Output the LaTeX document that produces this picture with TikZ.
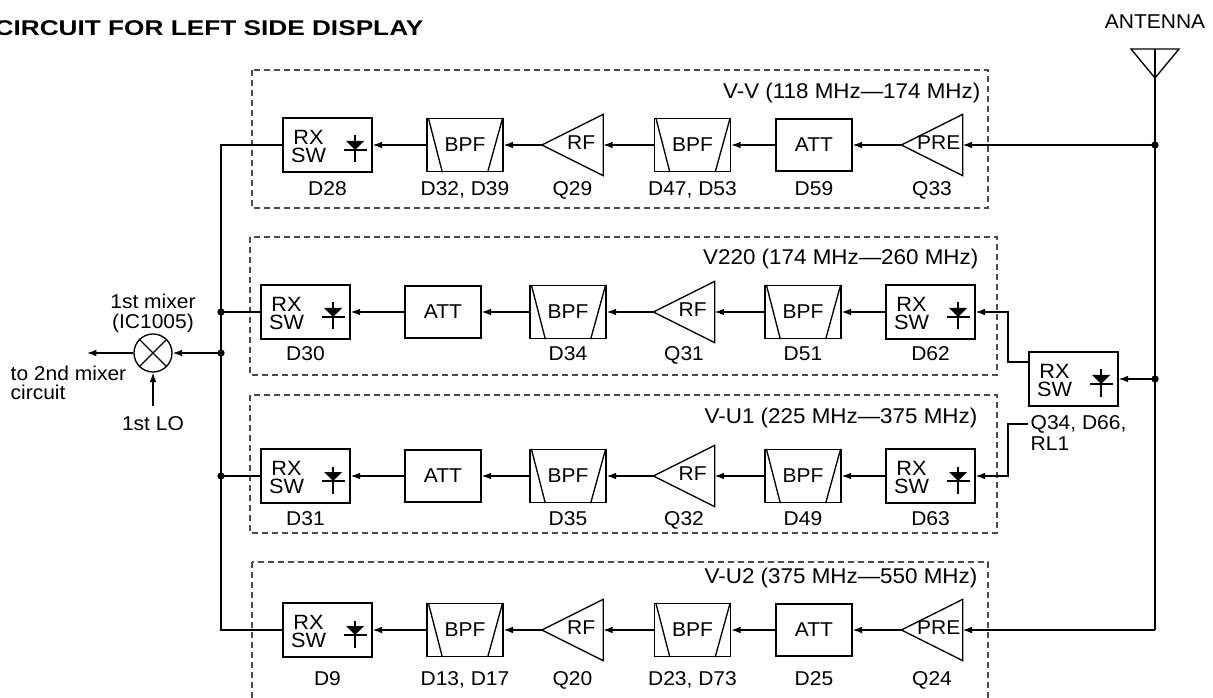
\documentclass[tikz,border=0pt]{standalone}
\usepackage{fontspec}
\setmainfont{Liberation Sans}[FakeStretch=1.05]
\usetikzlibrary{arrows.meta,calc}
\begin{document}
\begin{tikzpicture}[x=0.75pt,y=-0.75pt,line width=1pt,
  font=\fontsize{15}{18}\selectfont,
  swbox/.style={draw,rectangle,minimum width=66.75pt,minimum height=40.5pt,inner sep=0pt},
  bpfbox/.style={draw,rectangle,minimum width=57pt,minimum height=39.75pt,inner sep=0pt},
  attbox/.style={draw,rectangle,minimum width=57pt,minimum height=39pt,inner sep=0pt},
  ampnode/.style={rectangle,minimum width=45pt,minimum height=45pt,inner sep=0pt},
  arr/.style={-{Latex[length=7pt,width=5pt]}},
  jdot/.style={circle,fill,inner sep=0pt,minimum size=5.5pt},
  dbox/.style={draw=black!70,dash pattern=on 4.5pt off 3pt},
  txt/.style={inner sep=0pt},
  partlbl/.style={inner sep=0pt,anchor=base},
  swtxt/.style={inner sep=0pt,font=\fontsize{15.5}{16}\selectfont},
  bandlbl/.style={inner sep=0pt,anchor=east,font=\fontsize{16}{18}\selectfont},
  twoline/.style={inner sep=0pt,align=left,font=\fontsize{15}{14.5}\selectfont}]
\clip (0,0) rectangle (1213,698);

% title
\node[txt,anchor=west,font=\fontsize{16}{18}\bfseries] (title) at (-6,28) {\scalebox{1.17}[1]{CIRCUIT FOR LEFT SIDE DISPLAY}};

% dashed band boxes
\draw[dbox] (252,70) rectangle (988,208);
\draw[dbox] (250,237) rectangle (997,375);
\draw[dbox] (250,395) rectangle (997,533);
\draw[dbox] (252,562) rectangle (988,712);
\node[bandlbl] (lv1) at (981,93) {V-V (118 MHz—174 MHz)};
\node[bandlbl] (lv2) at (979,259) {V220 (174 MHz—260 MHz)};
\node[bandlbl] (lv3) at (978,418) {V-U1 (225 MHz—375 MHz)};
\node[bandlbl] (lv4) at (978,578) {V-U2 (375 MHz—550 MHz)};

% row 1
\node[swbox] (d28) at (327.5,145) {};
\node[bpfbox] (b1a) at (465,145) {BPF};
\node[ampnode] (q29) at (572.5,145) {};
\node[bpfbox] (b1b) at (692.5,145) {BPF};
\node[attbox] (a1) at (814,145) {ATT};
\node[ampnode] (q33) at (932,145) {};
% row 2
\node[swbox] (d30) at (305.5,312) {};
\node[attbox] (a2) at (443,312) {ATT};
\node[bpfbox] (b2a) at (568,312) {BPF};
\node[ampnode] (q31) at (684,312) {};
\node[bpfbox] (b2b) at (803,312) {BPF};
\node[swbox] (d62) at (930.5,312) {};
% row 3
\node[swbox] (d31) at (305.5,476) {};
\node[attbox] (a3) at (443,476) {ATT};
\node[bpfbox] (b3a) at (568,476) {BPF};
\node[ampnode] (q32) at (684,476) {};
\node[bpfbox] (b3b) at (803,476) {BPF};
\node[swbox] (d63) at (930.5,476) {};
% row 4
\node[swbox] (d9) at (327.5,630) {};
\node[bpfbox] (b4a) at (465,630) {BPF};
\node[ampnode] (q20) at (572.5,630) {};
\node[bpfbox] (b4b) at (692.5,630) {BPF};
\node[attbox] (a4) at (814,630) {ATT};
\node[ampnode] (q24) at (932,630) {};
% side switch
\node[swbox] (swm) at (1073.5,379) {};

% RX SW internals
\foreach \n in {d28,d30,d62,d31,d63,d9,swm}{
  \begin{scope}[shift={(\n.center)}]
    \node[swtxt] (\n-rx) at (-19,-8) {RX};
    \node[swtxt] (\n-sw) at (-19,10.5) {SW};
    \draw (27.5,-9.5) -- (27.5,17.5);
    \fill (18.5,-4) -- (36.5,-4) -- (27.5,5) -- cycle;
    \draw (16,5) -- (39,5);
  \end{scope}
}
% BPF slants
\foreach \n in {b1a,b1b,b2a,b2b,b3a,b3b,b4a,b4b}{
  \draw ($(\n.north west)+(2,0)$) -- ($(\n.south west)+(16,0)$);
  \draw ($(\n.north east)+(-1,0)$) -- ($(\n.south east)+(-16,0)$);
}
% amplifiers
\foreach \n/\t/\o in {q29/RF/22,q33/PRE/24,q31/RF/22,q32/RF/22,q20/RF/22,q24/PRE/24}{
  \draw (\n.west) -- (\n.north east) -- (\n.south east) -- cycle;
  \node[txt] (\n-t) at ($(\n.east)+(-\o,-2)$) {\t};
}

% part labels
\foreach \n/\t in {d28/D28,b1a/{D32, D39},q29/Q29,b1b/{D47, D53},a1/D59,q33/Q33}{
  \node[partlbl] (\n-l) at (\n.center |- 0,196) {\t};
}
\foreach \n/\t in {d30/D30,b2a/D34,q31/Q31,b2b/D51,d62/D62}{
  \node[partlbl] (\n-l) at (\n.center |- 0,361) {\t};
}
\foreach \n/\t in {d31/D31,b3a/D35,q32/Q32,b3b/D49,d63/D63}{
  \node[partlbl] (\n-l) at (\n.center |- 0,525) {\t};
}
\foreach \n/\t in {d9/D9,b4a/{D13, D17},q20/Q20,b4b/{D23, D73},a4/D25,q24/Q24}{
  \node[partlbl] (\n-l) at (\n.center |- 0,685) {\t};
}

% signal chains
\draw[arr] (q33.west) -- (a1.east);
\draw[arr] (a1.west) -- (b1b.east);
\draw[arr] (b1b.west) -- (q29.east);
\draw[arr] (q29.west) -- (b1a.east);
\draw[arr] (b1a.west) -- (d28.east);

\draw[arr] (d62.west) -- (b2b.east);
\draw[arr] (b2b.west) -- (q31.east);
\draw[arr] (q31.west) -- (b2a.east);
\draw[arr] (b2a.west) -- (a2.east);
\draw[arr] (a2.west) -- (d30.east);

\draw[arr] (d63.west) -- (b3b.east);
\draw[arr] (b3b.west) -- (q32.east);
\draw[arr] (q32.west) -- (b3a.east);
\draw[arr] (b3a.west) -- (a3.east);
\draw[arr] (a3.west) -- (d31.east);

\draw[arr] (q24.west) -- (a4.east);
\draw[arr] (a4.west) -- (b4b.east);
\draw[arr] (b4b.west) -- (q20.east);
\draw[arr] (q20.west) -- (b4a.east);
\draw[arr] (b4a.west) -- (d9.east);

% antenna
\node[txt] (antl) at (1155,22) {ANTENNA};
\coordinate (antL) at (1131,49);
\coordinate (antR) at (1179,49);
\coordinate (antT) at (1155,49);
\coordinate (antTip) at (1155,78);
\coordinate (j1) at (1155,145);
\coordinate (j2) at (1155,379);
\coordinate (c4) at (1155,630);
\draw (antL) -- (antR) -- (antTip) -- cycle;
\draw (antT) -- (c4);
\draw[arr] (j1) -- (q33.east);
\draw[arr] (j2) -- (swm.east);
\draw[arr] (c4) -- (q24.east);
\node[jdot] (dj1) at (j1) {};
\node[jdot] (dj2) at (j2) {};

% side switch outputs
\node[txt,anchor=west] (q34t) at (1030,424) {Q34, D66,};
\node[txt,anchor=west] (rl1t) at (1030,444) {RL1};
\coordinate (k1) at (1008,362);
\draw[arr] ($(swm.west)+(0,-17)$) -- (k1) |- (d62.east);
\draw[arr] ($(q34t.west)+(-2,0)$) -- (k1 |- q34t.west) |- (d63.east);

% left bus
\coordinate (bt) at (221,145);
\coordinate (bb) at (221,630);
\coordinate (bj2) at (221,312);
\coordinate (bj3) at (221,476);
\coordinate (bjm) at (221,353);
\draw (d28.west) -- (bt) -- (bb) -- (d9.west);
\draw (d30.west) -- (bj2);
\draw (d31.west) -- (bj3);
\node[jdot] (dbj2) at (bj2) {};
\node[jdot] (dbj3) at (bj3) {};
\node[jdot] (dbjm) at (bjm) {};

% mixer
\node[draw,circle,minimum size=28.5pt,inner sep=0pt] (mix) at (153,353) {};
\draw (mix.north west) -- (mix.south east) (mix.north east) -- (mix.south west);
\draw[arr] (bjm) -- (mix.east);
\coordinate (mout) at (87,353);
\draw[arr] (mix.west) -- (mout);
\coordinate (lo) at (153,406);
\draw[arr] (lo) -- (mix.south);
\node[txt,align=center,font=\fontsize{15}{15}\selectfont] (mixl) at (153,313) {1st mixer\\(IC1005)};
\node[txt] (lol) at (153,424) {1st LO};
\node[twoline,anchor=west] (outl) at (10,383) {to 2nd mixer\\circuit};
\end{tikzpicture}
\end{document}
